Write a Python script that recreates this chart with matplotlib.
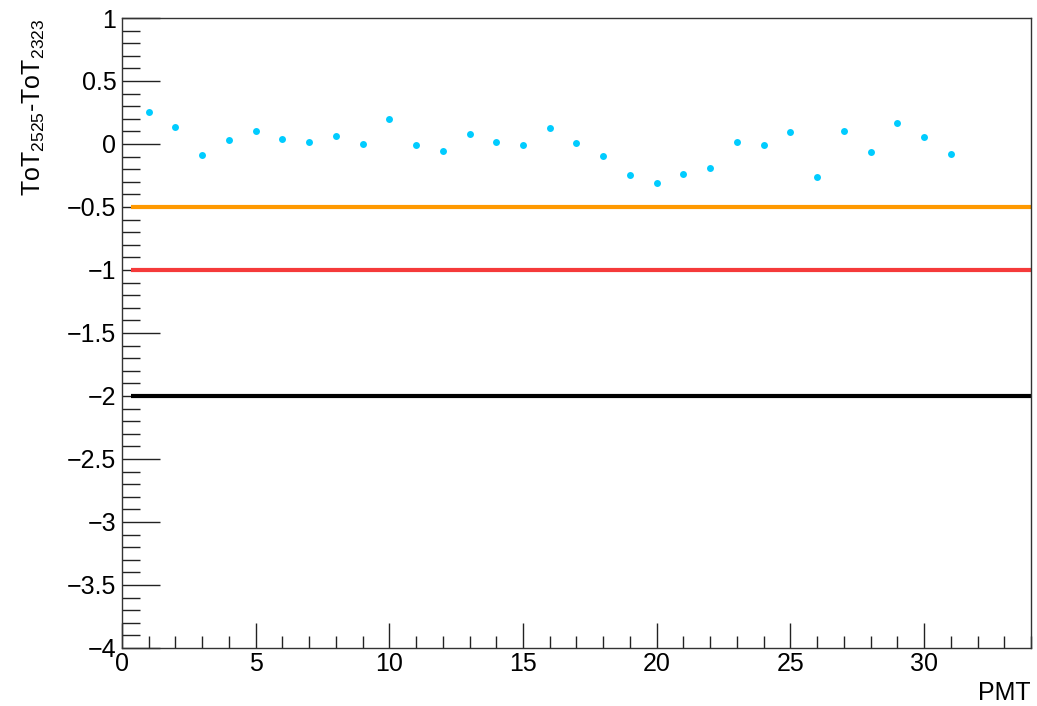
import matplotlib
matplotlib.use("Agg")
import matplotlib.pyplot as plt
from matplotlib.ticker import MultipleLocator, FuncFormatter

plt.rcParams['font.family'] = ['Liberation Sans', 'DejaVu Sans']
plt.rcParams['mathtext.fontset'] = 'custom'
plt.rcParams['mathtext.rm'] = 'Liberation Sans'
plt.rcParams['mathtext.it'] = 'Liberation Sans'

# ToT difference per PMT
pmt = list(range(1, 32))
tot_diff = [0.254, 0.132, -0.087, 0.029, 0.100, 0.042, 0.016, 0.061, 0.003, 0.196,
            -0.011, -0.053, 0.082, 0.016, -0.011, 0.124, 0.011, -0.093, -0.249, -0.307,
            -0.235, -0.190, 0.016, -0.011, 0.093, -0.262, 0.100, -0.061, 0.169, 0.056,
            -0.082]

# reference levels
levels = [-0.5, -1.0, -2.0]
level_colors = ['#ff9900', '#f53a3a', '#000000']

fig = plt.figure(figsize=(10.37, 7.06), dpi=100)
ax = fig.add_axes([0.1176, 0.0822, 0.8766, 0.8923])

xmin, xmax = 0, 34
ax.set_xlim(xmin, xmax)
ax.set_ylim(-4, 1)

for lv, col in zip(levels, level_colors):
    ax.hlines(lv, 0.35, xmax, colors=col, linewidth=3.0, zorder=2)

ax.plot(pmt, tot_diff, linestyle='none', marker='o', markersize=5.0,
        color='#00ccff', markeredgewidth=0, zorder=3)

ax.xaxis.set_major_locator(MultipleLocator(5))
ax.xaxis.set_minor_locator(MultipleLocator(1))
ax.yaxis.set_major_locator(MultipleLocator(0.5))
ax.yaxis.set_minor_locator(MultipleLocator(0.1))

def yfmt(v, pos):
    if abs(v - round(v)) < 1e-9:
        s = '%d' % round(v)
    else:
        s = '%g' % v
    return s.replace('-', '\u2212')

ax.yaxis.set_major_formatter(FuncFormatter(yfmt))
ax.xaxis.set_major_formatter(FuncFormatter(lambda v, p: '%d' % round(v)))

ax.tick_params(axis='both', which='both', direction='in', top=False, right=False,
               labelsize=18, color='#222222', width=1.0)
ax.tick_params(axis='y', which='major', length=27, pad=4)
ax.tick_params(axis='y', which='minor', length=13)
ax.tick_params(axis='x', which='major', length=18, pad=3)
ax.tick_params(axis='x', which='minor', length=9)

for sp in ax.spines.values():
    sp.set_linewidth(1.0)
    sp.set_color('#333333')

fig.text(0.9942, 0.009, 'PMT', ha='right', va='baseline', fontsize=18)
fig.text(0.033, 0.974, r'ToT$_{2525}$-ToT$_{2323}$', rotation=90, ha='center',
         va='top', fontsize=18)

fig.savefig('out.png', dpi=100)
